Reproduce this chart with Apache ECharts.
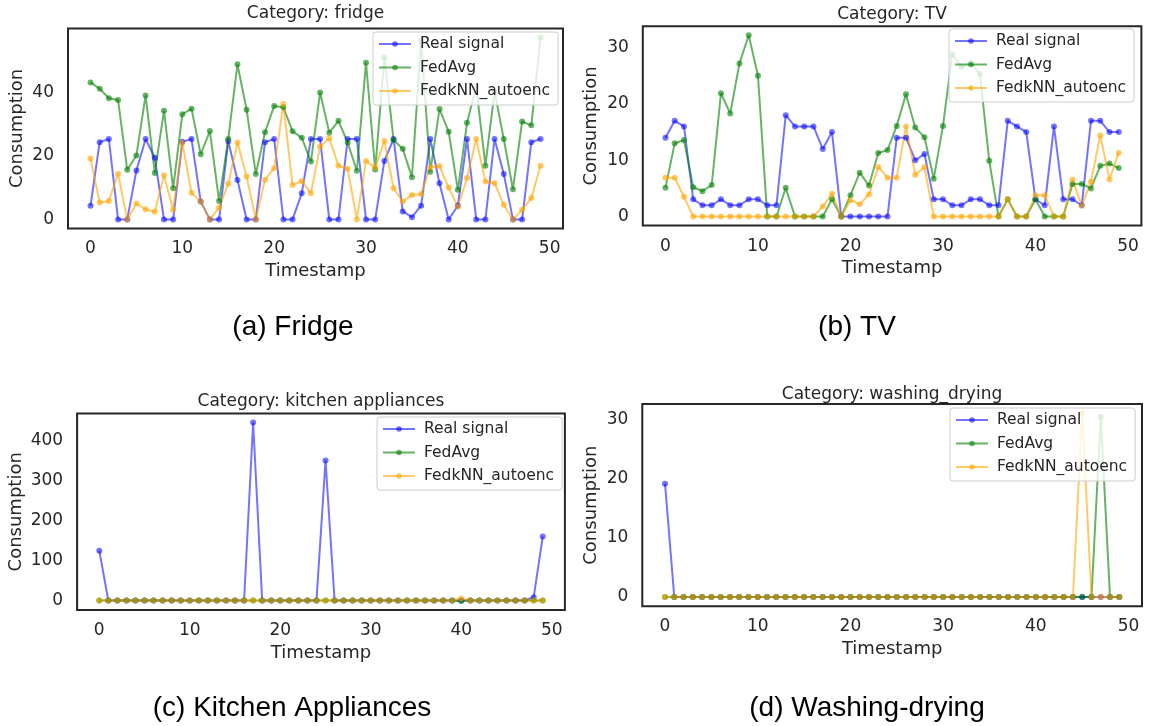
<!DOCTYPE html>
<html>
<head>
<meta charset="utf-8">
<script src="https://cdn.jsdelivr.net/npm/echarts@6/dist/echarts.min.js"></script>
<style>
  html, body { margin: 0; padding: 0; background: #fff; }
  #main { width: 1150px; height: 726px; }
</style>
</head>
<body>
<div id="main"></div>
<script>
var timestamps = [0, 1, 2, 3, 4, 5, 6, 7, 8, 9, 10, 11, 12, 13, 14, 15, 16, 17, 18, 19,
    20, 21, 22, 23, 24, 25, 26, 27, 28, 29, 30, 31, 32, 33, 34, 35, 36, 37, 38, 39,
    40, 41, 42, 43, 44, 45, 46, 47, 48, 49];

var seriesNames = ['Real signal', 'FedAvg', 'FedkNN_autoenc'];

// fridge
var fridgeReal = [4.3, 24.3, 25.3, 0, 0, 15.4, 25.3, 19.4, 0, 0, 24.4, 25.3, 5.6, 0, 0, 24.6, 12.4, 0, 0, 24.3,
    25.3, 0, 0, 8.2, 25.3, 25.3, 0, 0, 25.3, 25.3, 0, 0, 18.4, 25.3, 2.5, 0.7, 4.3, 25.3, 11.4, 0,
    4.3, 25.3, 0, 0, 25.3, 14.3, 0, 0, 24.3, 25.3];
var fridgeFedAvg = [43.1, 41.1, 38.1, 37.6, 15.6, 20.1, 39.0, 14.6, 34.2, 9.8, 33.1, 34.8, 20.5, 27.8, 5.8, 25.3, 48.8, 34.5, 14.3, 27.4,
    35.7, 35.3, 27.7, 25.7, 18.2, 39.9, 27.3, 31.0, 24.2, 15.3, 49.3, 15.7, 50.9, 25.0, 22.2, 13.3, 56.2, 15.0, 34.7, 27.6,
    9.3, 30.4, 41.8, 16.9, 40.2, 25.3, 9.5, 30.8, 29.6, 57.2];
var fridgeKnn = [19.2, 5.3, 5.8, 14.4, 0, 5.0, 3.2, 2.4, 13.9, 3.0, 24.0, 8.4, 5.6, 0, 3.7, 11.2, 24.2, 13.5, 0, 12.5,
    16.1, 36.3, 10.8, 12.1, 8.2, 22.9, 25.5, 16.9, 15.9, 0, 18.4, 16.3, 24.7, 9.8, 5.6, 7.7, 8.0, 16.4, 16.8, 10.0,
    4.0, 13.0, 25.3, 11.9, 11.4, 4.6, 0, 3.0, 6.7, 16.9];

// TV
var tvReal = [14.0, 17.0, 16.0, 3.05, 2.0, 2.0, 3.05, 2.0, 2.0, 3.05, 3.05, 2.0, 2.0, 18.0, 16.0, 16.0, 16.0, 12.0, 15.0, 0,
    0, 0, 0, 0, 0, 14.0, 14.0, 10.0, 11.1, 3.05, 3.05, 2.0, 2.0, 3.05, 3.05, 2.0, 2.0, 17.0, 16.0, 15.0,
    3.05, 2.0, 16.0, 3.05, 3.05, 2.0, 17.0, 17.0, 15.0, 15.0];
var tvFedAvg = [5.1, 13.0, 13.6, 5.2, 4.5, 5.6, 21.9, 18.3, 27.2, 32.2, 25.0, 0, 0, 5.1, 0, 0, 0, 0, 3.05, 0,
    3.8, 7.8, 5.5, 11.3, 11.8, 16.1, 21.7, 15.8, 14.1, 6.7, 16.1, 28.8, 26.6, 27.3, 25.3, 9.9, 0, 3.05, 0, 0,
    3.05, 0, 0, 0, 5.8, 5.8, 5.0, 9.0, 9.4, 8.6];
var tvKnn = [6.9, 6.9, 3.5, 0, 0, 0, 0, 0, 0, 0, 0, 0, 0, 0, 0, 0, 0, 1.8, 4.05, 0,
    2.9, 2.2, 3.9, 8.8, 6.9, 6.9, 16.0, 7.4, 8.8, 0, 0, 0, 0, 0, 0, 0, 0, 3.05, 0, 0,
    3.8, 3.8, 0, 0, 6.6, 1.9, 6.2, 14.4, 6.6, 11.3];

// kitchen appliances
var kitchenReal = [124.5, 0, 0, 0, 0, 0, 0, 0, 0, 0, 0, 0, 0, 0, 0, 0, 0, 445, 0, 0,
    0, 0, 0, 0, 0, 350, 0, 0, 0, 0, 0, 0, 0, 0, 0, 0, 0, 0, 0, 0,
    0, 0, 0, 0, 0, 0, 0, 0, 8, 160];
var kitchenFedAvg = [0, 0, 0, 0, 0, 0, 0, 0, 0, 0, 0, 0, 0, 0, 0, 0, 0, 0, 0, 0,
    0, 0, 0, 0, 0, 0, 0, 0, 0, 0, 0, 0, 0, 0, 0, 0, 0, 0, 0, 0,
    -1.5, 0, 0, 0, 0, 0, 0, 0, 0, 0];
var kitchenKnn = [0, 0, 0, 0, 0, 0, 0, 0, 0, 0, 0, 0, 0, 0, 0, 0, 0, 0, 0, 0,
    0, 0, 0, 0, 0, 0, 0, 0, 0, 0, 0, 0, 0, 0, 0, 0, 0, 0, 0, 0,
    5, 0, 0, 0, 0, 0, 0, 0, 0, 0];

// washing / drying
var washReal = [19.1, 0, 0, 0, 0, 0, 0, 0, 0, 0, 0, 0, 0, 0, 0, 0, 0, 0, 0, 0,
    0, 0, 0, 0, 0, 0, 0, 0, 0, 0, 0, 0, 0, 0, 0, 0, 0, 0, 0, 0,
    0, 0, 0, 0, 0, 0, 0, 0, 0, 0];
var washFedAvg = [0, 0, 0, 0, 0, 0, 0, 0, 0, 0, 0, 0, 0, 0, 0, 0, 0, 0, 0, 0,
    0, 0, 0, 0, 0, 0, 0, 0, 0, 0, 0, 0, 0, 0, 0, 0, 0, 0, 0, 0,
    0, 0, 0, 0, 0, 0, 0, 30.4, 0, 0];
var washKnn = [0, 0, 0, 0, 0, 0, 0, 0, 0, 0, 0, 0, 0, 0, 0, 0, 0, 0, 0, 0,
    0, 0, 0, 0, 0, 0, 0, 0, 0, 0, 0, 0, 0, 0, 0, 0, 0, 0, 0, 0,
    0, 0, 0, 0, 0, 31.0, 0, 0, 0, 0];

var xTicks = [0, 10, 20, 30, 40, 50];
var yTicksFridge = [0, 20, 40];
var yTicksTV = [0, 10, 20, 30];
var yTicksKitchen = [0, 100, 200, 300, 400];
var yTicksWash = [0, 10, 20, 30];

var panelTitles = ['Category: fridge', 'Category: TV', 'Category: kitchen appliances', 'Category: washing_drying'];
var captions = ['(a) Fridge', '(b) TV', '(c) Kitchen Appliances', '(d) Washing-drying'];

var lineColors = ['rgba(0,0,255,0.55)', 'rgba(0,128,0,0.6)', 'rgba(255,165,0,0.6)'];
var textColor = '#262626';
var font = 'DejaVu Sans';

function pairs(values) {
    return timestamps.map(function (t, i) { return [t, values[i]]; });
}

// panel boxes in px, and axis ranges (matplotlib-like 5% margins)
var panels = [
    { grid: { left: 68, top: 28.5, width: 495, height: 200 }, ymin: -2.86, ymax: 60.06, yTicks: yTicksFridge,
      data: [fridgeReal, fridgeFedAvg, fridgeKnn], yNameGap: 42, titlePos: [315.5, 3.5], legendPos: [373, 32], captionPos: [293, 311] },
    { grid: { left: 642.8, top: 26.2, width: 498.6, height: 199.4 }, ymin: -1.61, ymax: 33.81, yTicks: yTicksTV,
      data: [tvReal, tvFedAvg, tvKnn], yNameGap: 42, titlePos: [892, 4.5], legendPos: [949, 29], captionPos: [857, 311] },
    { grid: { left: 77.1, top: 413.6, width: 487.8, height: 196.4 }, ymin: -23.8, ymax: 467.3, yTicks: yTicksKitchen,
      data: [kitchenReal, kitchenFedAvg, kitchenKnn], yNameGap: 52, titlePos: [321, 391.5], legendPos: [377, 417], captionPos: [292, 692] },
    { grid: { left: 642.3, top: 404, width: 499.7, height: 202.2 }, ymin: -1.55, ymax: 32.55, yTicks: yTicksWash,
      data: [washReal, washFedAvg, washKnn], yNameGap: 42, titlePos: [892, 384], legendPos: [950, 408], captionPos: [867, 692] }
];

var grids = [], xAxes = [], yAxes = [], series = [], titles = [], legends = [];

panels.forEach(function (p, k) {
    grids.push(Object.assign({ show: true, borderColor: '#262626', borderWidth: 2, backgroundColor: 'transparent' }, p.grid));

    xAxes.push({
        type: 'value', gridIndex: k, min: -2.45, max: 51.45,
        splitLine: { show: false }, axisLine: { show: false }, axisTick: { show: false },
        axisLabel: { customValues: xTicks, fontSize: 17, color: textColor, fontFamily: font, margin: 12 },
        name: 'Timestamp', nameLocation: 'middle', nameGap: 34,
        nameTextStyle: { fontSize: 18, color: textColor, fontFamily: font }
    });
    yAxes.push({
        type: 'value', gridIndex: k, min: p.ymin, max: p.ymax,
        splitLine: { show: false }, axisLine: { show: false }, axisTick: { show: false },
        axisLabel: { customValues: p.yTicks, fontSize: 17, color: textColor, fontFamily: font, margin: 14 },
        name: 'Consumption', nameLocation: 'middle', nameGap: p.yNameGap,
        nameTextStyle: { fontSize: 18, color: textColor, fontFamily: font }
    });

    p.data.forEach(function (vals, j) {
        series.push({
            name: seriesNames[j], type: 'line', xAxisIndex: k, yAxisIndex: k,
            data: pairs(vals),
            color: lineColors[j],
            symbol: 'circle', symbolSize: 6, showAllSymbol: true,
            lineStyle: { color: lineColors[j], width: 2 },
            itemStyle: { color: lineColors[j], borderWidth: 0 },
            emphasis: { disabled: true }
        });
    });

    titles.push({
        text: panelTitles[k], left: p.titlePos[0], top: p.titlePos[1], textAlign: 'center', padding: 0,
        textStyle: { fontSize: 17, fontWeight: 'normal', color: textColor, fontFamily: font, lineHeight: 21 }
    });
    titles.push({
        text: captions[k], left: p.captionPos[0], top: p.captionPos[1], textAlign: 'center', padding: 0,
        textStyle: { fontSize: 28, fontWeight: 'normal', color: '#000', fontFamily: 'Liberation Sans', lineHeight: 32 }
    });

    legends.push({
        data: seriesNames, orient: 'vertical', left: p.legendPos[0], top: p.legendPos[1],
        itemWidth: 32, itemHeight: 7, itemGap: 5.5,
        padding: [3, 8, 5, 5],
        backgroundColor: 'rgba(255,255,255,0.8)', borderColor: '#cccccc', borderWidth: 1, borderRadius: 3,
        textStyle: { fontSize: 15.5, color: textColor, fontFamily: font, lineHeight: 18, padding: [0, 0, 0, 4] },
        selectedMode: false
    });
});

var chart = echarts.init(document.getElementById('main'));
chart.setOption({
    animation: false,
    backgroundColor: '#fff',
    title: titles,
    legend: legends,
    grid: grids,
    xAxis: xAxes,
    yAxis: yAxes,
    series: series
});
</script>
</body>
</html>
